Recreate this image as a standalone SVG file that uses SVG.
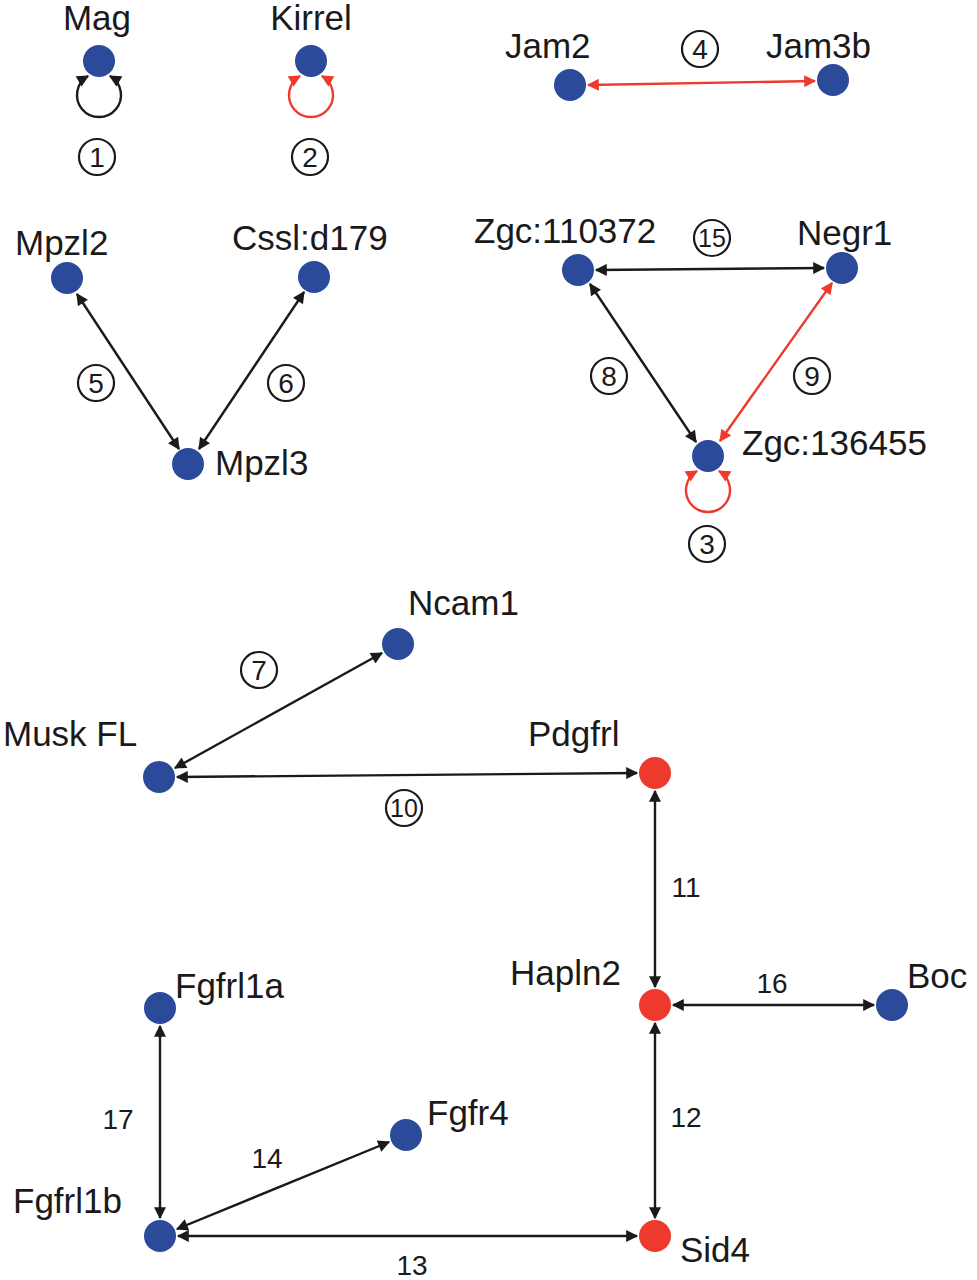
<svg xmlns="http://www.w3.org/2000/svg" width="977" height="1280" viewBox="0 0 977 1280">
<style>
.n{fill:#2b4a9a}.r{fill:#ee3a2e}
text{font-family:"Liberation Sans",Arial,sans-serif;fill:#1a1a1a}
.l{font-size:35px}.c{font-size:28px;text-anchor:middle}
.k{stroke:#1a1a1a;stroke-width:2.4;fill:none}
.e{stroke:#ee3a2e;stroke-width:2.4;fill:none}
.cc{fill:none;stroke:#1a1a1a;stroke-width:2.2}
</style>
<defs>
<marker id="ak" viewBox="0 0 10 10" refX="9" refY="5" markerWidth="14" markerHeight="12" orient="auto-start-reverse" markerUnits="userSpaceOnUse"><path d="M0,0L10,5L0,10z" fill="#1a1a1a"/></marker>
<marker id="ar" viewBox="0 0 10 10" refX="9" refY="5" markerWidth="14" markerHeight="12" orient="auto-start-reverse" markerUnits="userSpaceOnUse"><path d="M0,0L10,5L0,10z" fill="#ee3a2e"/></marker>
</defs>
<g id="connectors">
<path class="k" d="M88,76 A22,22 0 1 0 110,76" marker-start="url(#ak)" marker-end="url(#ak)"/>
<path class="e" d="M300,76 A22,22 0 1 0 322,76" marker-start="url(#ar)" marker-end="url(#ar)"/>
<path class="e" d="M697,471 A22,22 0 1 0 719,471" marker-start="url(#ar)" marker-end="url(#ar)"/>
<line class="e" x1="588" y1="85" x2="815" y2="81" marker-start="url(#ar)" marker-end="url(#ar)"/>
<line class="k" x1="77" y1="294" x2="179" y2="449" marker-start="url(#ak)" marker-end="url(#ak)"/>
<line class="k" x1="304" y1="292" x2="199" y2="449" marker-start="url(#ak)" marker-end="url(#ak)"/>
<line class="k" x1="596" y1="270" x2="824" y2="268" marker-start="url(#ak)" marker-end="url(#ak)"/>
<line class="k" x1="590" y1="284" x2="696" y2="442" marker-start="url(#ak)" marker-end="url(#ak)"/>
<line class="e" x1="832" y1="283" x2="720" y2="441" marker-start="url(#ar)" marker-end="url(#ar)"/>
<line class="k" x1="382" y1="653" x2="175" y2="768" marker-start="url(#ak)" marker-end="url(#ak)"/>
<line class="k" x1="177" y1="777" x2="637" y2="773" marker-start="url(#ak)" marker-end="url(#ak)"/>
<line class="k" x1="655" y1="791" x2="655" y2="987" marker-start="url(#ak)" marker-end="url(#ak)"/>
<line class="k" x1="673" y1="1005" x2="874" y2="1005" marker-start="url(#ak)" marker-end="url(#ak)"/>
<line class="k" x1="655" y1="1023" x2="655" y2="1218" marker-start="url(#ak)" marker-end="url(#ak)"/>
<line class="k" x1="160" y1="1026" x2="160" y2="1218" marker-start="url(#ak)" marker-end="url(#ak)"/>
<line class="k" x1="389" y1="1142" x2="177" y2="1229" marker-start="url(#ak)" marker-end="url(#ak)"/>
<line class="k" x1="178" y1="1236" x2="637" y2="1236" marker-start="url(#ak)" marker-end="url(#ak)"/>
</g>
<g id="edge-labels">
<circle class="cc" cx="97" cy="157" r="18"/><text class="c" x="97" y="167">1</text>
<circle class="cc" cx="310" cy="157" r="18"/><text class="c" x="310" y="167">2</text>
<circle class="cc" cx="700" cy="49" r="18"/><text class="c" x="700" y="59">4</text>
<circle class="cc" cx="96" cy="383" r="18"/><text class="c" x="96" y="393">5</text>
<circle class="cc" cx="286" cy="383" r="18"/><text class="c" x="286" y="393">6</text>
<circle class="cc" cx="712" cy="238" r="18"/><text class="c" x="712" y="247" style="font-size:25px">15</text>
<circle class="cc" cx="609" cy="376" r="18"/><text class="c" x="609" y="386">8</text>
<circle class="cc" cx="812" cy="376" r="18"/><text class="c" x="812" y="386">9</text>
<circle class="cc" cx="707" cy="544" r="18"/><text class="c" x="707" y="554">3</text>
<circle class="cc" cx="259" cy="670" r="18"/><text class="c" x="259" y="680">7</text>
<circle class="cc" cx="404" cy="808" r="18"/><text class="c" x="404" y="817" style="font-size:25px">10</text>
<text class="c" x="686" y="897">11</text>
<text class="c" x="772" y="993">16</text>
<text class="c" x="686" y="1127">12</text>
<text class="c" x="118" y="1129">17</text>
<text class="c" x="267" y="1168">14</text>
<text class="c" x="412" y="1275">13</text>
</g>
<g id="Mag"><circle class="n" cx="99" cy="61" r="16"/><text class="l" x="97" y="30" text-anchor="middle">Mag</text></g>
<g id="Kirrel"><circle class="n" cx="311" cy="61" r="16"/><text class="l" x="311" y="30" text-anchor="middle">Kirrel</text></g>
<g id="Jam2"><circle class="n" cx="570" cy="85" r="16"/><text class="l" x="505" y="58">Jam2</text></g>
<g id="Jam3b"><circle class="n" cx="833" cy="80" r="16"/><text class="l" x="766" y="58">Jam3b</text></g>
<g id="Mpzl2"><circle class="n" cx="67" cy="278" r="16"/><text class="l" x="15" y="255">Mpzl2</text></g>
<g id="Cssl"><circle class="n" cx="314" cy="277" r="16"/><text class="l" x="232" y="250">Cssl:d179</text></g>
<g id="Mpzl3"><circle class="n" cx="188" cy="464" r="16"/><text class="l" x="215" y="475">Mpzl3</text></g>
<g id="Zgc110372"><circle class="n" cx="578" cy="270" r="16"/><text class="l" x="474" y="243">Zgc:110372</text></g>
<g id="Negr1"><circle class="n" cx="842" cy="268" r="16"/><text class="l" x="797" y="245">Negr1</text></g>
<g id="Zgc136455"><circle class="n" cx="708" cy="456" r="16"/><text class="l" x="742" y="455">Zgc:136455</text></g>
<g id="Ncam1"><circle class="n" cx="398" cy="644" r="16"/><text class="l" x="408" y="615">Ncam1</text></g>
<g id="MuskFL"><circle class="n" cx="159" cy="777" r="16"/><text class="l" x="3" y="746">Musk FL</text></g>
<g id="Pdgfrl"><circle class="r" cx="655" cy="773" r="16"/><text class="l" x="528" y="746">Pdgfrl</text></g>
<g id="Hapln2"><circle class="r" cx="655" cy="1005" r="16"/><text class="l" x="510" y="985">Hapln2</text></g>
<g id="Boc"><circle class="n" cx="892" cy="1005" r="16"/><text class="l" x="907" y="988">Boc</text></g>
<g id="Fgfrl1a"><circle class="n" cx="160" cy="1008" r="16"/><text class="l" x="175" y="998">Fgfrl1a</text></g>
<g id="Fgfr4"><circle class="n" cx="406" cy="1135" r="16"/><text class="l" x="427" y="1125">Fgfr4</text></g>
<g id="Fgfrl1b"><circle class="n" cx="160" cy="1236" r="16"/><text class="l" x="13" y="1213">Fgfrl1b</text></g>
<g id="Sid4"><circle class="r" cx="655" cy="1236" r="16"/><text class="l" x="680" y="1262">Sid4</text></g>
</svg>
